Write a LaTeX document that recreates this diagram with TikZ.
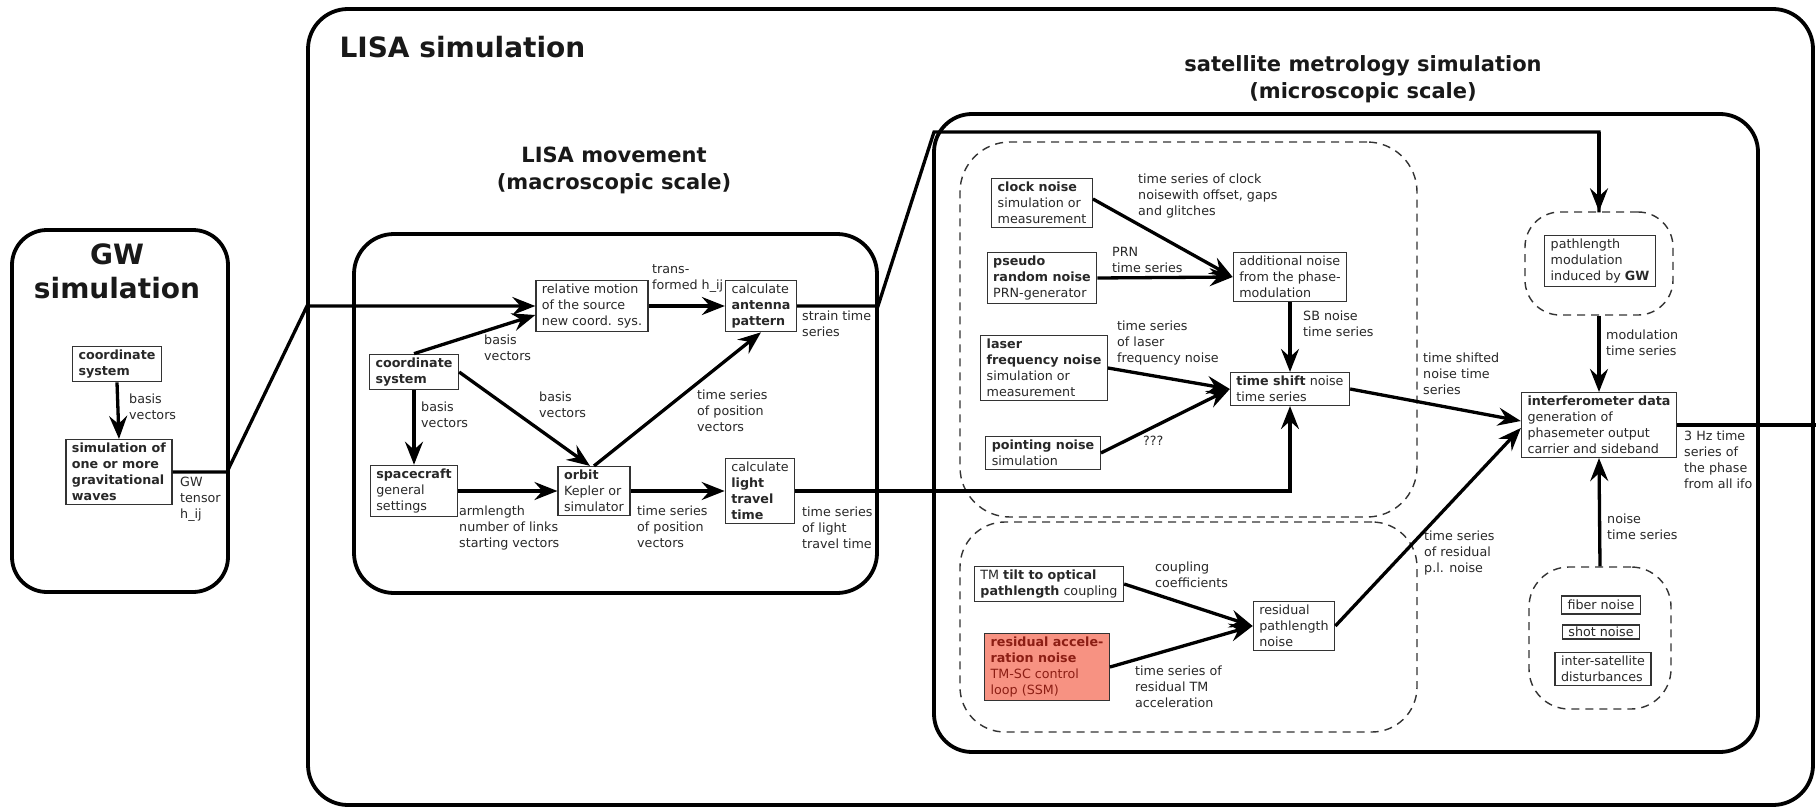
\documentclass[tikz,border=0pt]{standalone}
\usepackage{fontspec}
\setmainfont{DejaVu Sans}
\usetikzlibrary{arrows.meta}
\definecolor{salmonfill}{RGB}{247,146,130}
\definecolor{darkredtxt}{RGB}{140,30,20}
\definecolor{txt}{RGB}{40,40,40}
\tikzset{
 bx/.style={draw=black!80, line width=1.3pt, align=left, inner xsep=6pt, inner ysep=3.5pt, text=txt, font=\fontsize{12.7}{16}\selectfont},
 lbl/.style={align=left, inner sep=0pt, anchor=north west, text=txt, font=\fontsize{12.7}{16}\selectfont},
 conn/.style={line width=3.3pt, -{Stealth[length=23pt,width=18pt,inset=8pt]}},
 wire/.style={line width=3.3pt},
 bigframe/.style={line width=3.8pt, rounded corners=#1},
 dframe/.style={draw=black!80, line width=1.4pt, dash pattern=on 8pt off 6pt, rounded corners=#1, inner sep=0pt},
 ttl/.style={font=\fontsize{28}{34}\selectfont\bfseries, align=center, text=black!90},
 subttl/.style={font=\fontsize{21}{27}\selectfont\bfseries, align=center, text=black!90}
}
\begin{document}
\begin{tikzpicture}[x=1pt,y=-1pt]
\useasboundingbox (0,0) rectangle (1816,808);
\fill[white] (0,0) rectangle (1816,808);

% big frames
\draw[bigframe=35] (12,230) rectangle (228,592);
\draw[bigframe=40] (308,9) rectangle (1813,805);
\draw[bigframe=40] (354,234) rectangle (877,593);
\draw[bigframe=38] (934,114) rectangle (1758,752);

% titles
\node[ttl] (gwt) at (117,271) {GW\\simulation};
\node[ttl, anchor=west] (lisat) at (336,47) {LISA simulation};
\node[subttl] (movt) at (614,170) {LISA movement\\(macroscopic scale)};
\node[subttl] (mett) at (1363,79) {satellite metrology simulation\\(microscopic scale)};

% dashed frames
\node[dframe=50, minimum width=457, minimum height=375] (upf) at (1188.5,329.5) {};
\node[dframe=45, minimum width=457, minimum height=210] (lowf) at (1188.5,627) {};
\node[dframe=35, minimum width=148, minimum height=103] (plmf) at (1599,263.5) {};
\node[dframe=40, minimum width=142, minimum height=142] (noisef) at (1600,638) {};

% GW simulation nodes
\node[bx] (gwcs) at (117,364) {\textbf{coordinate}\\\textbf{system}};
\node[bx] (gwsim) at (119,472) {\textbf{simulation of}\\\textbf{one or more}\\\textbf{gravitational}\\\textbf{waves}};

% LISA movement nodes
\node[bx] (cs) at (414,372) {\textbf{coordinate}\\\textbf{system}};
\node[bx] (rel) at (592,306) {relative motion\\of the source\\new coord. sys.};
\node[bx] (ant) at (761,306) {calculate\\\textbf{antenna}\\\textbf{pattern}};
\node[bx] (sc) at (414,491) {\textbf{spacecraft}\\general\\settings};
\node[bx] (orb) at (594,491) {\textbf{orbit}\\Kepler or\\simulator};
\node[bx] (ltt) at (760,491) {calculate\\\textbf{light}\\\textbf{travel}\\\textbf{time}};

% metrology nodes
\node[bx] (clock) at (1042,203) {\textbf{clock noise}\\simulation or\\measurement};
\node[bx] (prn) at (1042,278) {\textbf{pseudo}\\\textbf{random noise}\\PRN-generator};
\node[bx] (laser) at (1044,368) {\textbf{laser}\\\textbf{frequency noise}\\simulation or\\measurement};
\node[bx] (point) at (1043,453) {\textbf{pointing noise}\\simulation};
\node[bx] (addn) at (1290,277) {additional noise\\from the phase-\\modulation};
\node[bx] (tshift) at (1290,389) {\textbf{time shift} noise\\time series};
\node[bx] (tilt) at (1049,584) {TM \textbf{tilt to optical}\\\textbf{pathlength} coupling};
\node[bx, fill=salmonfill, text=darkredtxt] (racc) at (1047,667) {\textbf{residual accele-}\\\textbf{ration noise}\\TM-SC control\\loop (SSM)};
\node[bx] (rpl) at (1294,626) {residual\\pathlength\\noise};
\node[bx] (plm) at (1600,261) {pathlength\\modulation\\induced by \textbf{GW}};
\node[bx] (ifo) at (1599,425) {\textbf{interferometer data}\\generation of\\phasemeter output\\carrier and sideband};
\node[bx, inner ysep=4pt] (fiber) at (1601,605) {fiber noise};
\node[bx, inner ysep=2pt] (shot) at (1601,632) {shot noise};
\node[bx] (isd) at (1603,669) {inter-satellite\\disturbances};

% coordinates
\coordinate (k1) at (227,472);
\coordinate (k2) at (307,306);
\coordinate (a1) at (878,306);
\coordinate (a2) at (934,132);
\coordinate (outR) at (1816,425);

% connectors
\draw[conn] (gwcs.south) -- (gwsim.north);
\draw[conn] (gwsim.east) -- (k1) -- (k2) -- (rel.west);
\draw[conn] (cs.north) -- ([yshift=-9pt]rel.west);
\draw[conn] (rel.east) -- (ant.west);
\draw[wire] (ant.east) -- (a1) -- (a2) -| ([yshift=-1pt]plmf.north);
\draw[conn] (a2 -| plmf.north) -- (plmf.north);
\draw[conn] (cs.south) -- (sc.north);
\draw[conn] (cs.east) -- ([xshift=-4pt]orb.north);
\draw[conn] (orb.north) -- (ant.south);
\draw[conn] (sc.east) -- (orb.west);
\draw[conn] (orb.east) -- (ltt.west);
\draw[conn] (ltt.east) -| (tshift.south);

\draw[conn] ([yshift=4pt]clock.east) -- (addn.west);
\draw[conn] (prn.east) -- (addn.west);
\draw[conn] (addn.south) -- (tshift.north);
\draw[conn] (laser.east) -- (tshift.west);
\draw[conn] (point.east) -- (tshift.west);
\draw[conn] (tshift.east) -- ([yshift=4pt]ifo.west);
\draw[conn] (tilt.east) -- (rpl.west);
\draw[conn] (racc.east) -- (rpl.west);
\draw[conn] (rpl.east) -- ([yshift=-3pt]ifo.west);
\draw[conn] (plmf.south) -- (ifo.north);
\draw[conn] (noisef.north) -- (ifo.south);
\draw[wire] (ifo.east) -- (outR);

% labels
\node[lbl] (l1) at (180,477) {GW\\tensor\\h\_ij};
\node[lbl] (l2) at (129,394) {basis\\vectors};
\node[lbl] (l3) at (484,335) {basis\\vectors};
\node[lbl] (l4) at (652,264) {trans-\\formed h\_ij};
\node[lbl] (l5) at (802,311) {strain time\\series};
\node[lbl] (l6) at (421,402) {basis\\vectors};
\node[lbl] (l7) at (539,392) {basis\\vectors};
\node[lbl] (l8) at (697,390) {time series\\of position\\vectors};
\node[lbl] (l9) at (459,506) {armlength\\number of links\\starting vectors};
\node[lbl] (l10) at (637,506) {time series\\of position\\vectors};
\node[lbl] (l11) at (802,507) {time series\\of light\\travel time};
\node[lbl] (l12) at (1138,174) {time series of clock\\noisewith offset, gaps\\and glitches};
\node[lbl] (l13) at (1112,247) {PRN\\time series};
\node[lbl] (l14) at (1303,311) {SB noise\\time series};
\node[lbl] (l15) at (1117,321) {time series\\of laser\\frequency noise};
\node[lbl] (l16) at (1143,436) {???};
\node[lbl] (l17) at (1423,353) {time shifted\\noise time\\series};
\node[lbl] (l18) at (1606,330) {modulation\\time series};
\node[lbl] (l19) at (1684,431) {3 Hz time\\series of\\the phase\\from all ifo};
\node[lbl] (l20) at (1607,514) {noise\\time series};
\node[lbl] (l21) at (1424,531) {time series\\of residual\\p.l. noise};
\node[lbl] (l22) at (1155,562) {coupling\\coefficients};
\node[lbl] (l23) at (1135,666) {time series of\\residual TM\\acceleration};
\end{tikzpicture}
\end{document}
